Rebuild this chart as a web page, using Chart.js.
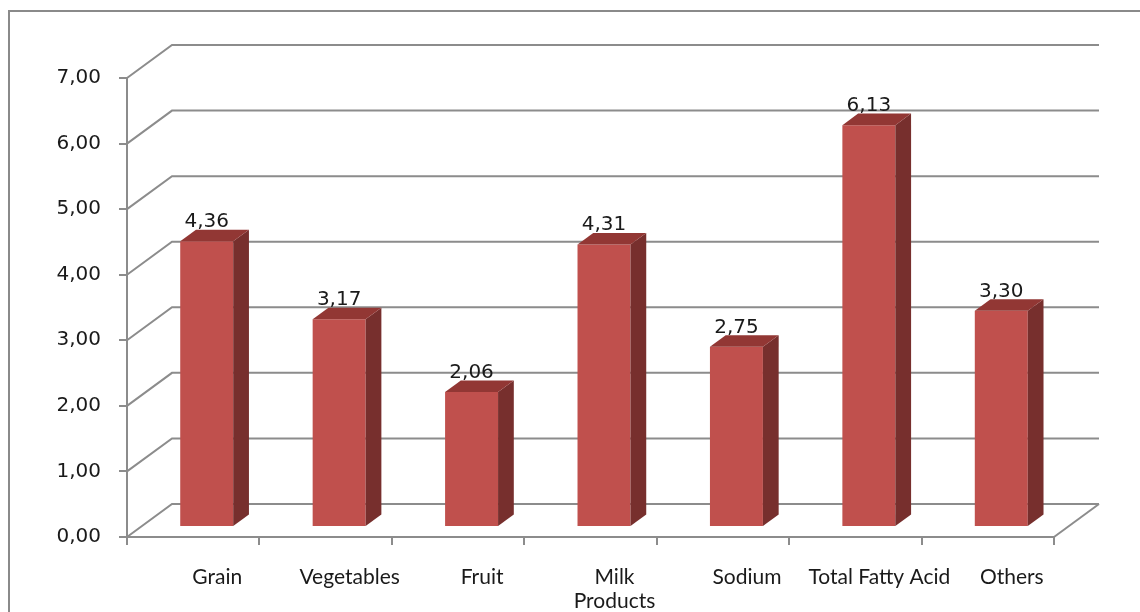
<!DOCTYPE html>
<html>
<head>
<meta charset="utf-8">
<title>Food groups</title>
<script src="https://cdn.jsdelivr.net/npm/chart.js@4.4.1/dist/chart.umd.min.js"></script>
<style>
    html, body { margin: 0; padding: 0; background: #ffffff; }
    .chart-box { position: relative; width: 1140px; height: 612px; }
</style>
</head>
<body>
<div class="chart-box">
    <canvas id="foodChart"></canvas>
</div>
<script>
// Chart data
const categories = ['Grain', 'Vegetables', 'Fruit', ['Milk', 'Products'], 'Sodium', 'Total Fatty Acid', 'Others'];
const values = [4.36, 3.17, 2.06, 4.31, 2.75, 6.13, 3.30];
const yTicks = [0, 1, 2, 3, 4, 5, 6, 7];

// Look of the 3D box
const GRID_COLOR = '#8c8c8c';
const FRONT = '#c0504d';
const TOP = '#923734';
const SIDE = '#772f2d';
const DEPTH_X = 45;
const DEPTH_Y = -33;
const BAR_SHIFT = 0.3;   // where the front of the bars stands in the depth
const BAR_DEPTH = 0.35;  // how deep the bars are

const formatComma = v => Number(v).toFixed(2).replace('.', ',');

const box3d = {
    id: 'box3d',
    beforeDatasetsDraw(chart) {
        const { ctx, chartArea: a, scales: { y } } = chart;
        ctx.save();
        ctx.strokeStyle = GRID_COLOR;
        ctx.lineWidth = 2;
        // back wall gridlines with the left wall diagonals
        yTicks.forEach(v => {
            const py = y.getPixelForValue(v);
            ctx.beginPath();
            ctx.moveTo(a.left, py);
            ctx.lineTo(a.left + DEPTH_X, py + DEPTH_Y);
            ctx.lineTo(a.right + DEPTH_X, py + DEPTH_Y);
            ctx.stroke();
        });
        // floor right edge
        ctx.beginPath();
        ctx.moveTo(a.right, a.bottom);
        ctx.lineTo(a.right + DEPTH_X, a.bottom + DEPTH_Y);
        ctx.stroke();
        ctx.restore();

        // push the bars back into the box
        ctx.save();
        ctx.translate(DEPTH_X * BAR_SHIFT, DEPTH_Y * BAR_SHIFT);
    },
    afterDatasetsDraw(chart) {
        const ctx = chart.ctx;
        const meta = chart.getDatasetMeta(0);
        const dx = DEPTH_X * BAR_DEPTH;
        const dy = DEPTH_Y * BAR_DEPTH;

        meta.data.forEach((bar, i) => {
            const { x, y, base, width } = bar.getProps(['x', 'y', 'base', 'width'], true);
            const l = x - width / 2;
            const r = x + width / 2;

            // side face
            ctx.fillStyle = SIDE;
            ctx.beginPath();
            ctx.moveTo(r, y);
            ctx.lineTo(r + dx, y + dy);
            ctx.lineTo(r + dx, base + dy);
            ctx.lineTo(r, base);
            ctx.closePath();
            ctx.fill();

            // top face
            ctx.fillStyle = TOP;
            ctx.beginPath();
            ctx.moveTo(l, y);
            ctx.lineTo(r, y);
            ctx.lineTo(r + dx, y + dy);
            ctx.lineTo(l + dx, y + dy);
            ctx.closePath();
            ctx.fill();

            // value label
            ctx.fillStyle = '#1a1a1a';
            ctx.font = '20px "DejaVu Sans"';
            ctx.textAlign = 'center';
            ctx.textBaseline = 'alphabetic';
            ctx.fillText(formatComma(values[i]), x, y - 14);
        });
        ctx.restore();
    },
    afterDraw(chart) {
        // outer frame (only left and top show in the picture)
        const ctx = chart.ctx;
        ctx.save();
        ctx.strokeStyle = '#8a8a8a';
        ctx.lineWidth = 2;
        ctx.beginPath();
        ctx.moveTo(9, chart.height);
        ctx.lineTo(9, 11);
        ctx.lineTo(chart.width, 11);
        ctx.stroke();
        ctx.restore();
    }
};

const ctx = document.getElementById('foodChart').getContext('2d');

new Chart(ctx, {
    type: 'bar',
    data: {
        labels: categories,
        datasets: [{
            data: values,
            backgroundColor: FRONT,
            borderWidth: 0,
            barPercentage: 0.8,
            categoryPercentage: 0.5
        }]
    },
    options: {
        responsive: true,
        maintainAspectRatio: false,
        animation: false,
        layout: {
            padding: { top: 78, right: 86, bottom: 0, left: 0 }
        },
        scales: {
            x: {
                offset: true,
                grid: {
                    offset: true,
                    drawOnChartArea: false,
                    drawTicks: true,
                    tickLength: 8,
                    color: GRID_COLOR,
                    lineWidth: 2
                },
                border: { color: GRID_COLOR, width: 2 },
                ticks: {
                    autoSkip: false,
                    maxRotation: 0,
                    padding: 20,
                    labelOffset: 24,
                    color: '#1a1a1a',
                    font: { family: 'Lato', size: 21, lineHeight: 1.15 }
                },
                afterFit: scale => { scale.height = 75; }
            },
            y: {
                min: 0,
                max: 7,
                afterBuildTicks: scale => {
                    scale.ticks = yTicks.map(v => ({ value: v }));
                },
                grid: {
                    drawOnChartArea: false,
                    drawTicks: true,
                    tickLength: 8,
                    color: GRID_COLOR,
                    lineWidth: 2
                },
                border: { color: GRID_COLOR, width: 2 },
                ticks: {
                    padding: 18,
                    color: '#1a1a1a',
                    font: { family: 'DejaVu Sans', size: 20 },
                    callback: v => formatComma(v)
                },
                afterFit: scale => { scale.width = 127; }
            }
        },
        plugins: {
            legend: { display: false },
            tooltip: { enabled: false },
            title: { display: false }
        }
    },
    plugins: [box3d]
});
</script>
</body>
</html>
